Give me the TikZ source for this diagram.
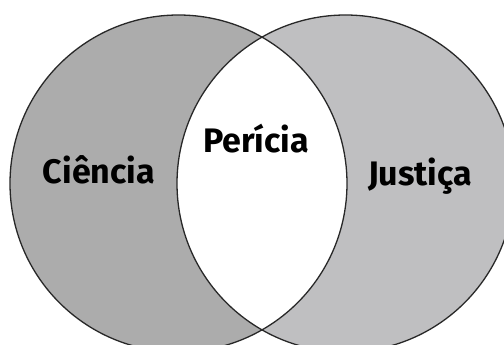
\documentclass[tikz,border=0pt]{standalone}
\usepackage{fontspec}
\setmainfont{Fira Sans}
\definecolor{leftgray}{RGB}{172,172,172}
\definecolor{rightgray}{RGB}{191,191,193}
\definecolor{edge}{RGB}{40,40,40}
\tikzset{
  outline/.style={draw=edge, line width=1.3pt},
  label/.style={font=\fontsize{34}{40}\selectfont\bfseries, text=black, inner sep=0pt}
}
\begin{document}
\begin{tikzpicture}[x=1pt,y=-1pt]
\useasboundingbox (0,0) rectangle (504,345);
\clip (0,0) rectangle (504,345);
\fill[white] (0,0) rectangle (504,345);
\coordinate (cl) at (178.5,183.5);
\coordinate (cr) at (345.5,183.5);
\fill[leftgray] (cl) circle[radius=168.5];
\fill[rightgray] (cr) circle[radius=168.5];
\begin{scope}
  \clip (cl) circle[radius=168.5];
  \fill[white] (cr) circle[radius=168.5];
\end{scope}
\draw[outline] (cl) circle[radius=168.5];
\draw[outline] (cr) circle[radius=168.5];
\node[label, anchor=base] (ciencia) at (99,183) {Ciência};
\node[label, anchor=base] (pericia) at (256,153) {Perícia};
\node[label, anchor=base] (justica) at (420,185) {Justiça};
\end{tikzpicture}
\end{document}
